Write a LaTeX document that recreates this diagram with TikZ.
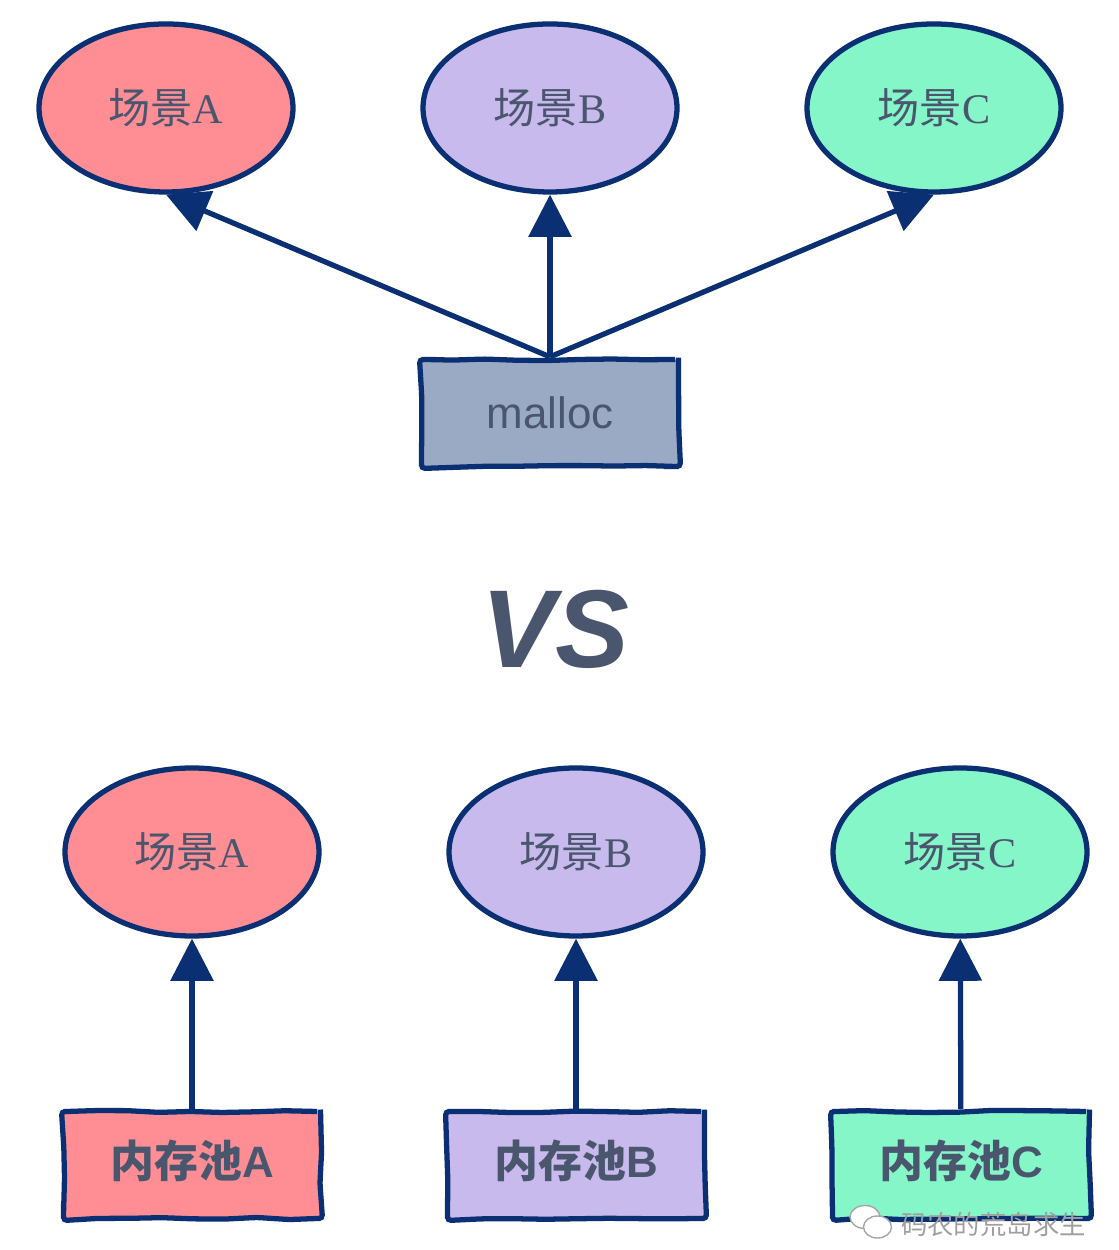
\documentclass[tikz,border=0pt]{standalone}
\usepackage{fontspec}
\setmainfont{Liberation Serif}
\setsansfont{Liberation Sans}
\newfontfamily\cjk{Noto Sans CJK SC}
\usetikzlibrary{shapes.geometric,arrows.meta,decorations.pathmorphing}
\definecolor{navy}{HTML}{0B2F73}
\definecolor{inkgray}{HTML}{4A566E}
\definecolor{redfill}{HTML}{FF8E94}
\definecolor{purplefill}{HTML}{C8BAEC}
\definecolor{greenfill}{HTML}{84F6C8}
\definecolor{slatefill}{HTML}{9BAAC4}
\tikzset{
    scene/.style={ellipse, draw=navy, line width=3pt, minimum width=5.08cm, minimum height=3.36cm, inner sep=0pt, text=inkgray, font=\fontsize{24}{26}\selectfont},
    pool/.style={rectangle, draw=navy, line width=3pt, minimum width=5.14cm, minimum height=2.14cm, inner sep=0pt, text=inkgray, text depth=0.25cm, rounded corners=2pt, decorate, decoration={random steps, segment length=18pt, amplitude=0.6pt}, font=\sffamily\bfseries\fontsize{25}{27}\selectfont},
    link/.style={draw=navy, line width=3pt, -{Triangle[length=24pt, width=24pt]}},
    bubble/.style={ellipse, draw=gray!70, fill=white, line width=0.8pt, inner sep=0pt}
}
\pgfmathsetseed{7}
\begin{document}
\begin{tikzpicture}
        \useasboundingbox (0,0) rectangle (22.36,25);
        \node[scene, fill=redfill] (sceneA) at (3.32,22.84) {{\cjk 场景}A};
        \node[scene, fill=purplefill] (sceneB) at (11,22.84) {{\cjk 场景}B};
        \node[scene, fill=greenfill] (sceneC) at (18.68,22.84) {{\cjk 场景}C};
        \node[pool, fill=slatefill, text depth=0.03cm, font=\sffamily\fontsize{25}{27}\selectfont] (malloc) at (11,16.74) {malloc};
        \node[text=inkgray, font=\sffamily\bfseries\itshape\fontsize{63}{72}\selectfont] (vs) at (11.1,12.42) {VS};
        \node[scene, fill=redfill] (sceneD) at (3.84,7.96) {{\cjk 场景}A};
        \node[scene, fill=purplefill] (sceneE) at (11.52,7.96) {{\cjk 场景}B};
        \node[scene, fill=greenfill] (sceneF) at (19.2,7.96) {{\cjk 场景}C};
        \node[pool, fill=redfill] (poolA) at (3.84,1.7) {{\cjk\bfseries 内存池}A};
        \node[pool, fill=purplefill] (poolB) at (11.52,1.7) {{\cjk\bfseries 内存池}B};
        \node[pool, fill=greenfill] (poolC) at (19.22,1.7) {{\cjk\bfseries 内存池}C};
        \draw[link] (malloc.north) -- (sceneA.south);
        \draw[link] (malloc.north) -- (sceneB.south);
        \draw[link] (malloc.north) -- (sceneC.south);
        \draw[link] (poolA) -- (sceneD);
        \draw[link] (poolB) -- (sceneE);
        \draw[link] (poolC) -- (sceneF);
        \node[bubble, minimum width=0.6cm, minimum height=0.46cm] (iconA) at (17.3,0.66) {};
        \node[bubble, minimum width=0.56cm, minimum height=0.44cm] (iconB) at (17.55,0.46) {};
        \node[text=gray!75, font=\cjk\fontsize{15}{17}\selectfont, anchor=west] (mark) at (17.9,0.51) {码农的荒岛求生};
    \end{tikzpicture}
\end{document}
